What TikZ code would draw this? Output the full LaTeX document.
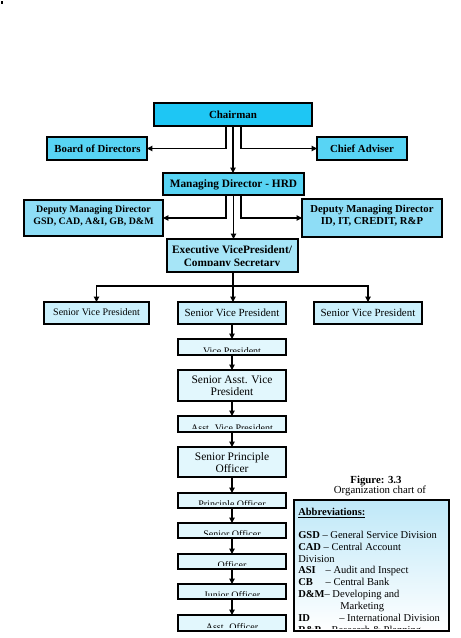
\documentclass[tikz,border=0pt]{standalone}
\usepackage{fontspec}
\setmainfont{Liberation Serif}
\usetikzlibrary{arrows.meta,calc,fit}
\definecolor{cChair}{HTML}{1EC6F4}
\definecolor{cMD}{HTML}{58D4F4}
\definecolor{cDMD}{HTML}{8EDDF6}
\definecolor{cEVP}{HTML}{A6E5F7}
\definecolor{cSVP}{HTML}{CBF0FC}
\definecolor{cLow}{HTML}{E2F7FD}
\definecolor{cAbbr}{HTML}{BFE8F8}
\newcommand\rbox[6]{\node[box, fill=#6, fit={(#2,#3) (#4,#5)}] (#1) {};}
\newcommand\cliplbl[4]{%
  \begin{scope}
    \clip ($(#1.north west)+(1,1)$) rectangle ($(#1.south east)+(-1,-3.2)$);
    \node[lbl, font=#3] (#2) at ($(#1.south)+(0,-1)$) {#4};
  \end{scope}}
\begin{document}
\begin{tikzpicture}[x=0.75pt,y=-0.75pt,
  box/.style={draw=black,line width=0.9pt,inner sep=0pt,outer sep=0pt},
  conn/.style={line width=0.8pt},
  arr/.style={line width=0.8pt,-{Triangle[length=4pt,width=4pt]}},
  lbl/.style={inner sep=0pt,anchor=base},
  lblw/.style={inner sep=0pt,anchor=base west}]
\useasboundingbox (0,0) rectangle (460,638);
\fill (1,1) rectangle (2.5,4.5);

% boxes
\rbox{chair}{154}{103}{312}{126}{cChair}
\rbox{board}{47}{137}{147}{160}{cMD}
\rbox{chief}{317}{137}{407}{160}{cMD}
\rbox{md}{163}{173}{304}{195}{cMD}
\rbox{dmdL}{24}{200}{163}{236}{cDMD}
\rbox{dmdR}{302}{199}{442}{237}{cDMD}
\rbox{evp}{167}{239}{298}{272}{cEVP}
\rbox{svpL}{44}{302}{149}{324}{cSVP}
\rbox{svpC}{178}{302}{286}{324}{cSVP}
\rbox{svpR}{314}{302}{422}{324}{cSVP}
\rbox{vp}{178}{339}{286}{355}{cLow}
\rbox{savp}{178}{370}{286}{401}{cLow}
\rbox{avp}{178}{416}{286}{432}{cLow}
\rbox{spo}{178}{447}{286}{477}{cLow}
\rbox{po}{178}{493}{286}{508}{cLow}
\rbox{so}{178}{523}{286}{538}{cLow}
\rbox{off}{178}{554}{286}{569}{cLow}
\rbox{jo}{178}{584}{286}{599}{cLow}
\rbox{ao}{178}{615}{286}{631}{cLow}
\node[box, top color=cAbbr, bottom color=white, fit={(294,500) (449,631)}] (abbr) {};

% labels
\node[lbl, font=\fontsize{8.2pt}{9.8pt}\selectfont\bfseries] (tchair) at (233,118.3) {Chairman};
\node[lbl, font=\fontsize{8.1pt}{9.7pt}\selectfont\bfseries] (tboard) at (97.5,152) {Board of Directors};
\node[lbl, font=\fontsize{8.1pt}{9.7pt}\selectfont\bfseries] (tchief) at (362,152) {Chief Adviser};
\node[lbl, font=\fontsize{8.5pt}{10pt}\selectfont\bfseries] (tmd) at (233.5,187.5) {Managing Director - HRD};
\node[lbl, font=\fontsize{7.45pt}{9pt}\selectfont\bfseries] (tdl1) at (93.5,212.5) {Deputy Managing Director};
\node[lbl, font=\fontsize{7.45pt}{9pt}\selectfont\bfseries] (tdl2) at (93.5,224) {GSD, CAD, A\&I, GB, D\&M};
\node[lbl, font=\fontsize{8pt}{9.6pt}\selectfont\bfseries] (tdr1) at (372,212.5) {Deputy Managing Director};
\node[lbl, font=\fontsize{8pt}{9.6pt}\selectfont\bfseries] (tdr2) at (372,224.5) {ID, IT, CREDIT, R\&P};
\node[lbl, font=\fontsize{8.5pt}{10pt}\selectfont\bfseries] (tevp1) at (232,253.7) {Executive VicePresident/};
\begin{scope}
  \clip ($(evp.north west)+(1,1)$) rectangle ($(evp.south east)+(-1,-6.5)$);
  \node[lbl, font=\fontsize{8.5pt}{10pt}\selectfont\bfseries] (tevp2) at (232,266.2) {Company Secretary};
\end{scope}
\node[lbl, font=\fontsize{7.5pt}{9pt}\selectfont] (tsvpL) at (96.5,315.5) {Senior Vice President};
\node[lbl, font=\fontsize{8.2pt}{9.8pt}\selectfont] (tsvpC) at (232,316) {Senior Vice President};
\node[lbl, font=\fontsize{8.2pt}{9.8pt}\selectfont] (tsvpR) at (368,316) {Senior Vice President};
\cliplbl{vp}{tvp}{\fontsize{7.5pt}{9pt}\selectfont}{Vice President}
\node[lbl, font=\fontsize{8.6pt}{10pt}\selectfont] (tsavp1) at (232,383) {Senior Asst. Vice};
\node[lbl, font=\fontsize{8.6pt}{10pt}\selectfont] (tsavp2) at (232,395) {President};
\cliplbl{avp}{tavp}{\fontsize{7.5pt}{9pt}\selectfont}{Asst. Vice President}
\node[lbl, font=\fontsize{8.6pt}{10pt}\selectfont] (tspo1) at (232,460.5) {Senior Principle};
\node[lbl, font=\fontsize{8.6pt}{10pt}\selectfont] (tspo2) at (232,472) {Officer};
\cliplbl{po}{tpo}{\fontsize{7.5pt}{9pt}\selectfont}{Principle Officer}
\cliplbl{so}{tso}{\fontsize{7.5pt}{9pt}\selectfont}{Senior Officer}
\cliplbl{off}{toff}{\fontsize{7.5pt}{9pt}\selectfont}{Officer}
\cliplbl{jo}{tjo}{\fontsize{7.5pt}{9pt}\selectfont}{Junior Officer}
\cliplbl{ao}{tao}{\fontsize{7.5pt}{9pt}\selectfont}{Asst. Officer}

% caption
\node[lbl, font=\fontsize{8.1pt}{9.7pt}\selectfont\bfseries] (fig1) at (376,483) {Figure: 3.3};
\node[lbl, font=\fontsize{8.1pt}{9.7pt}\selectfont] (fig2) at (380,493) {Organization chart of};

% abbreviations
\begin{scope}[every node/.style={lblw, font=\fontsize{7.9pt}{9.5pt}\selectfont}]
  \clip ($(abbr.north west)+(1,1)$) rectangle ($(abbr.south east)+(-1,-3)$);
  \node (ab0) at (298,515) {\underline{\textbf{Abbreviations:}}};
  \node (ab1) at (298,538.5) {\textbf{GSD} – General Service Division};
  \node (ab2) at (298,550.3) {\textbf{CAD} – Central Account};
  \node (ab3) at (298,562.1) {Division};
  \node (ab4) at (298,573.9) {\makebox[2.6em][l]{\textbf{ASI}}– Audit and Inspect};
  \node (ab5) at (298,585.7) {\makebox[2.6em][l]{\textbf{CB}}– Central Bank};
  \node (ab6) at (298,597.5) {\textbf{D\&M}– Developing and};
  \node (ab7) at (340,609.3) {Marketing};
  \node (ab8) at (298,621.1) {\makebox[3.9em][l]{\textbf{ID}}– International Division};
  \node (ab9) at (298,633.5) {\textbf{R\&P} – Research \& Planning};
\end{scope}

% connectors
\draw[arr] ($(chair.south)+(-7,0)$) |- (board.east);
\draw[arr] ($(chair.south)+(8,0)$) |- (chief.west);
\draw[arr] (chair.south) -- (chair.south |- md.north);
\draw[arr] ($(md.south)+(-7.5,0)$) |- (dmdL.east);
\draw[arr] ($(md.south)+(7.5,0)$) |- (dmdR.west);
\draw[arr] (md.south) -- (md.south |- evp.north);
\coordinate (hub) at (233,286);
\draw[conn] (evp.south -| hub) -- (hub);
\draw[arr] (hub) -- (hub |- svpC.north);
\draw[arr] (hub) -| (svpL.north);
\draw[arr] (hub) -| (svpR.north);
\draw[arr] (svpC.south) -- (vp.north);
\draw[arr] (vp.south) -- (savp.north);
\draw[arr] (savp.south) -- (avp.north);
\draw[arr] (avp.south) -- (spo.north);
\draw[arr] (spo.south) -- (po.north);
\draw[arr] (po.south) -- (so.north);
\draw[arr] (so.south) -- (off.north);
\draw[arr] (off.south) -- (jo.north);
\draw[arr] (jo.south) -- (ao.north);
\end{tikzpicture}
\end{document}
